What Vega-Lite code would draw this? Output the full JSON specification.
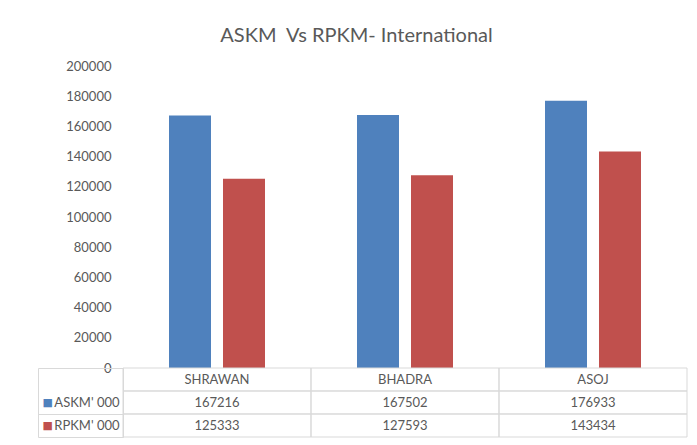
{
  "$schema": "https://vega.github.io/schema/vega-lite/v6.json",
  "padding": {"left": 37, "right": 11, "top": 26, "bottom": 2},
  "background": "white",
  "title": {"text": "ASKM\u00a0 Vs RPKM- International", "fontSize": 20, "font": "Lato", "fontWeight": "normal", "color": "#595959", "anchor": "middle", "offset": 14, "dx": -6},
  "data": {"values": [
    {"month": "SHRAWAN", "series": "ASKM' 000", "value": 167216},
    {"month": "SHRAWAN", "series": "RPKM' 000", "value": 125333},
    {"month": "BHADRA", "series": "ASKM' 000", "value": 167502},
    {"month": "BHADRA", "series": "RPKM' 000", "value": 127593},
    {"month": "ASOJ", "series": "ASKM' 000", "value": 176933},
    {"month": "ASOJ", "series": "RPKM' 000", "value": 143434}
  ]},
  "bounds": "flush",
  "spacing": 0,
  "vconcat": [
    {
      "width": 564,
      "height": 302,
      "mark": {"type": "bar"},
      "encoding": {
        "x": {"field": "month", "type": "nominal", "sort": ["SHRAWAN", "BHADRA", "ASOJ"], "scale": {"paddingInner": 0, "paddingOuter": 0}, "axis": null},
        "xOffset": {"field": "series", "type": "nominal", "scale": {"paddingInner": 0.2222, "paddingOuter": 0.8519}},
        "y": {"field": "value", "type": "quantitative", "scale": {"domain": [0, 200000], "nice": false},
          "axis": {"title": null, "values": [0, 20000, 40000, 60000, 80000, 100000, 120000, 140000, 160000, 180000, 200000], "format": "d", "grid": false, "domain": false, "ticks": false, "tickSize": 0, "labelPadding": 12, "labelFont": "Lato", "labelFontSize": 13, "labelColor": "#595959"}},
        "color": {"field": "series", "type": "nominal", "scale": {"domain": ["ASKM' 000", "RPKM' 000"], "range": ["#4f81bd", "#c0504d"]}, "legend": null}
      }
    },
    {
      "width": 564,
      "height": 69,
      "layer": [
        {
          "mark": {"type": "rect", "fillOpacity": 0, "stroke": "#d9d9d9", "strokeWidth": 1},
          "encoding": {
            "x": {"field": "month", "type": "nominal", "sort": ["SHRAWAN", "BHADRA", "ASOJ"], "scale": {"paddingInner": 0, "paddingOuter": 0}, "axis": null},
            "y": {"field": "series", "type": "nominal", "scale": {"domain": ["hdr", "ASKM' 000", "RPKM' 000"], "paddingInner": 0, "paddingOuter": 0},
              "axis": {"orient": "left", "title": null, "domain": true, "domainColor": "#d9d9d9", "ticks": true, "tickBand": "extent", "tickSize": 85, "tickColor": {"condition": {"test": "datum.value == 'hdr' && !datum.extra", "value": "transparent"}, "value": "#d9d9d9"}, "labelPadding": -81, "labelExpr": "datum.value == 'hdr' ? '' : datum.value", "labelColor": "#595959", "labelFontSize": 13, "labelFont": "Lato"}}
          }
        },
        {
          "transform": [{"filter": "datum.series == \"ASKM' 000\""}],
          "mark": {"type": "rect", "fillOpacity": 0, "stroke": "#d9d9d9", "strokeWidth": 1},
          "encoding": {
            "x": {"field": "month", "type": "nominal", "sort": ["SHRAWAN", "BHADRA", "ASOJ"], "axis": null},
            "y": {"datum": "hdr", "type": "nominal", "axis": null}
          }
        },
        {
          "mark": {"type": "text", "font": "Lato", "fontSize": 13, "color": "#595959"},
          "encoding": {
            "x": {"field": "month", "type": "nominal", "sort": ["SHRAWAN", "BHADRA", "ASOJ"], "axis": null},
            "y": {"field": "series", "type": "nominal",
              "axis": {"orient": "left", "offset": 85, "title": null, "domain": true, "domainColor": "#d9d9d9", "ticks": false, "tickSize": 0, "labelPadding": -4, "labelAlign": "left", "labelExpr": "datum.value == 'hdr' ? '' : '■'", "labelColor": {"condition": {"test": "datum.value == \"ASKM' 000\"", "value": "#4f81bd"}, "value": "#c0504d"}, "labelFontSize": 11, "labelFont": "DejaVu Sans"}},
            "text": {"field": "value", "type": "quantitative", "format": "d"}
          }
        },
        {
          "transform": [{"filter": "datum.series == \"ASKM' 000\""}],
          "mark": {"type": "text", "font": "Lato", "fontSize": 13, "color": "#595959"},
          "encoding": {
            "x": {"field": "month", "type": "nominal", "sort": ["SHRAWAN", "BHADRA", "ASOJ"], "axis": null},
            "y": {"datum": "hdr", "type": "nominal", "axis": null},
            "text": {"field": "month", "type": "nominal"}
          }
        }
      ],
      "resolve": {"axis": {"y": "independent"}}
    }
  ],
  "config": {"view": {"stroke": null}}
}
